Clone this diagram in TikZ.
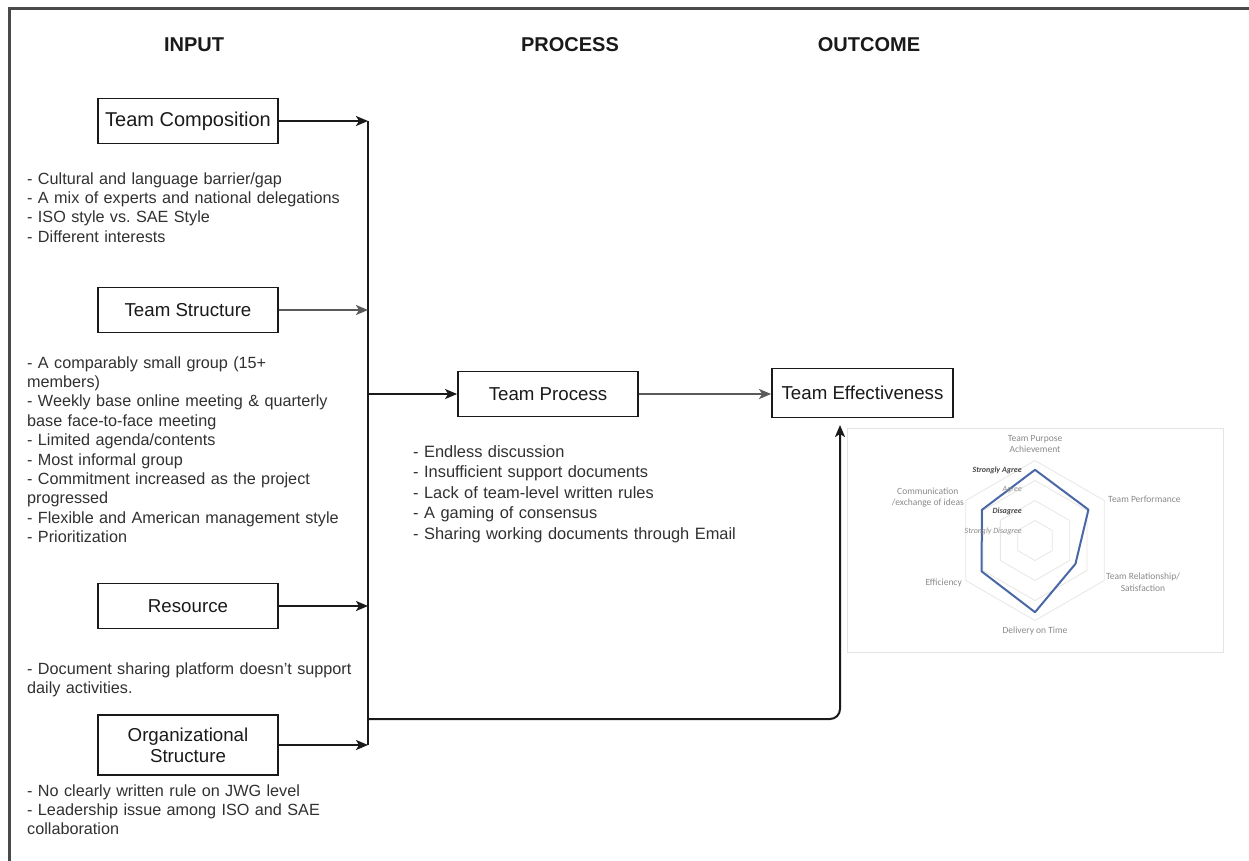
\documentclass[tikz,border=0pt]{standalone}
\usepackage{fontspec}
\setmainfont{Liberation Sans}
\newfontfamily\chartfont{Carlito}
\usetikzlibrary{arrows.meta,calc}
\definecolor{ink}{HTML}{1A1A1A}
\definecolor{framec}{HTML}{4A4A4A}
\definecolor{series}{HTML}{4A68A6}
\definecolor{gridc}{HTML}{EAE7E3}
\definecolor{axislab}{HTML}{8A8A8A}
\definecolor{chartedge}{HTML}{E4E4E4}
\frenchspacing
\begin{document}
\begin{tikzpicture}[x=1pt,y=-1pt,
  box/.style={draw=ink, line width=1.8pt, fill=white, minimum width=180pt,
    minimum height=45pt, inner sep=0pt, text=ink, align=center,
    font=\fontsize{18.7}{22}\selectfont},
  title/.style={font=\fontsize{20}{24}\selectfont\bfseries, text=ink, anchor=base, inner sep=0pt},
  notes/.style={anchor=base west, inner sep=0pt, text width=360pt, align=left,
    font=\fontsize{16.2}{19.4}\selectfont, text=ink!90},
  link/.style={draw=ink, line width=2pt, -{Stealth[length=12pt,width=10pt,inset=3pt]}},
  softlink/.style={link, draw=ink!72},
  bus/.style={draw=ink, line width=2pt},
  chartlab/.style={font=\chartfont\fontsize{9.5}{11.5}\selectfont, text=axislab, inner sep=0pt},
  levellab/.style={font=\chartfont\itshape\fontsize{8}{9}\selectfont, text=ink!80, inner sep=0pt, anchor=east},
]
\useasboundingbox (0,0) rectangle (1249,860);
\fill[white] (0,0) rectangle (1249,860);

% outer frame (left and top edges)
\draw[framec, line width=3pt] (9.5,862) -- (9.5,8.5) -- (1251,8.5);

% column headings
\node[title] (hin)  at (194,51) {INPUT};
\node[title] (hpro) at (570,51) {PROCESS};
\node[title] (hout) at (869,51) {OUTCOME};

% input factors
\node[box, font=\fontsize{20}{24}\selectfont] (tc) at (188,121) {Team Composition};
\node[box] (ts)  at (188,310) {Team Structure};
\node[box] (res) at (188,606) {Resource};
\node[box, minimum height=60pt] (org) at (188,745) {Organizational\\[-1pt]Structure};

\node[notes] (tcn) at (27,184) {- Cultural and language barrier/gap\\
- A mix of experts and national delegations\\
- ISO style vs. SAE Style\\
- Different interests};
\node[notes] (tsn) at (27,368) {- A comparably small group (15+\\
members)\\
- Weekly base online meeting \& quarterly\\
base face-to-face meeting\\
- Limited agenda/contents\\
- Most informal group\\
- Commitment increased as the project\\
progressed\\
- Flexible and American management style\\
- Prioritization};
\node[notes] (resn) at (27,674) {- Document sharing platform doesn't support\\
daily activities.};
\node[notes] (orgn) at (27,796) {- No clearly written rule on JWG level\\
- Leadership issue among ISO and SAE\\
collaboration};

% process and outcome
\node[box] (tp) at (548,394) {Team Process};
\node[box, minimum width=181pt, minimum height=49pt] (te) at (862.5,393) {Team Effectiveness};
\node[notes, font=\fontsize{16.4}{20.6}\selectfont] (tpn) at (413,457) {- Endless discussion\\
- Insufficient support documents\\
- Lack of team-level written rules\\
- A gaming of consensus\\
- Sharing working documents through Email};

% collecting bus and connectors
\coordinate (busx) at (368,0);
\coordinate (fb) at (368,719);
\coordinate (teIn) at (840,425);
\draw[bus] (tc -| busx) -- (org -| busx);
\draw[link] (tc.east) -- (tc -| busx);
\draw[softlink] (ts.east) -- (ts -| busx);
\draw[link] (res.east) -- (res -| busx);
\draw[link] (org.east) -- (org -| busx);
\draw[link] (tp -| busx) -- (tp.west);
\draw[softlink] (tp.east) -- (tp.east -| te.west);
\draw[link, rounded corners=10pt] (fb) -- (fb -| teIn) -- (teIn);

% radar chart of team effectiveness ratings
\draw[chartedge, line width=1pt, fill=white] (847.5,428.5) rectangle (1223,652);
\begin{scope}[shift={(1035,540.5)}]
  \foreach \r in {20,40,60,80}
    \draw[gridc, line width=0.8pt] (-90:\r) -- (-30:\r) -- (30:\r) -- (90:\r) -- (150:\r) -- (210:\r) -- cycle;
  \draw[series, line width=2pt, line join=round]
    (-90:70.7) -- (-30:61.7) -- (30:46.7) -- (90:71.7) -- (150:61.7) -- (210:61.3) -- cycle;
\end{scope}
\node[chartlab, align=center] (ax1) at (1035,444) {Team Purpose\\Achievement};
\node[chartlab, anchor=west] (ax2) at (1108,499) {Team Performance};
\node[chartlab, align=center] (ax3) at (1143,582) {Team Relationship/\\Satisfaction};
\node[chartlab] (ax4) at (1035,631) {Delivery on Time};
\node[chartlab, anchor=east] (ax5) at (962,583) {Efficiency};
\node[chartlab, align=center, anchor=east] (ax6) at (964,497.5) {Communication\\/exchange of ideas};
\node[levellab, font=\chartfont\itshape\bfseries\fontsize{8}{9}\selectfont] (l4) at (1022,470) {Strongly Agree};
\node[levellab, text=axislab] (l3) at (1022,490) {Agree};
\node[levellab, font=\chartfont\itshape\bfseries\fontsize{8}{9}\selectfont] (l2) at (1022,511) {Disagree};
\node[levellab, text=axislab] (l1) at (1022,531) {Strongly Disagree};
\end{tikzpicture}
\end{document}
